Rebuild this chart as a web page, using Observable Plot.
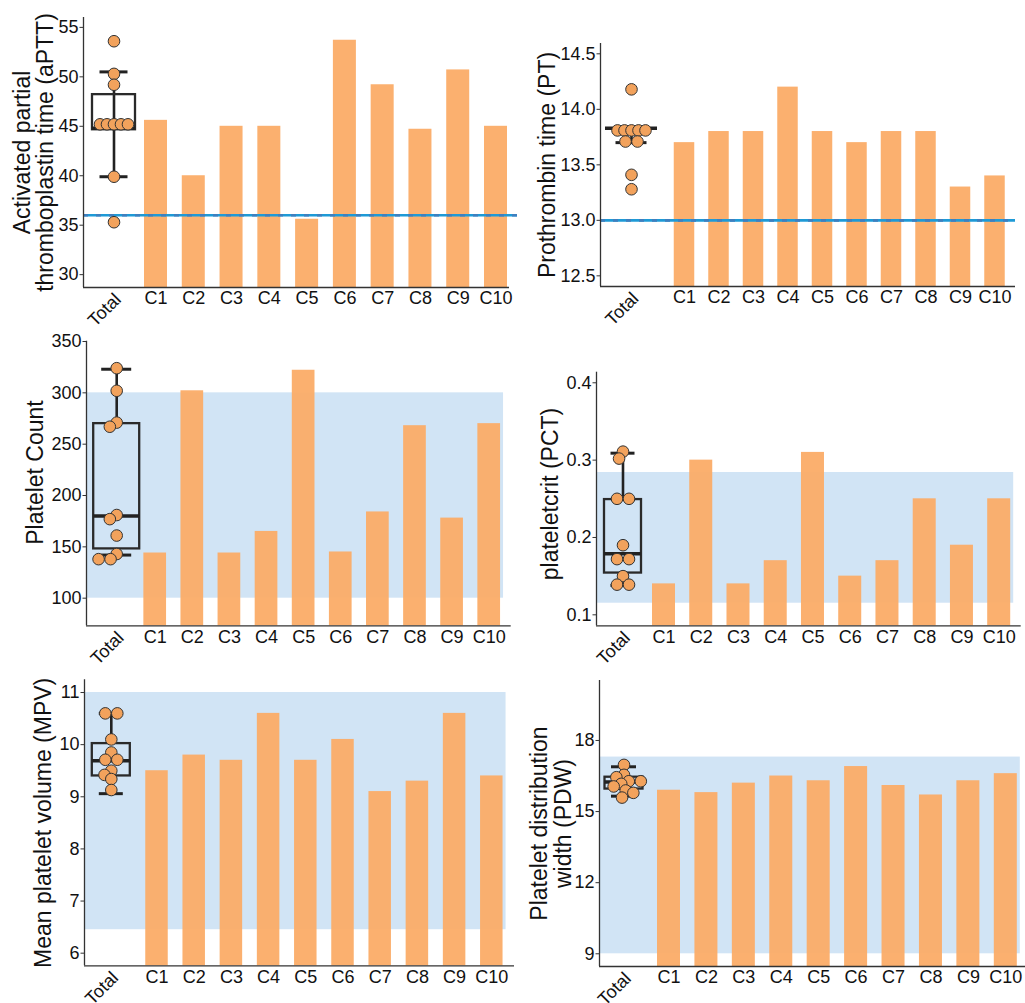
<!DOCTYPE html>
<html><head><meta charset="utf-8">
<script src="https://cdn.jsdelivr.net/npm/d3@7"></script>
<script src="https://cdn.jsdelivr.net/npm/@observablehq/plot@0.6"></script>
<style>
body{margin:0;background:#fff;}
#root{position:relative;width:1025px;height:1003px;overflow:hidden;background:#fff;font-family:"Liberation Sans",Arial,sans-serif;}
.panel{position:absolute;}
</style></head><body><div id="root"></div>
<script>
// ---------- DATA ----------
const clusters = ["C1","C2","C3","C4","C5","C6","C7","C8","C9","C10"];
const totalLabel = "Total";

const apttBars = [45.6, 40.0, 45.0, 45.0, 35.6, 53.7, 49.2, 44.7, 50.7, 45.0];
const apttDots = [53.6, 50.3, 49.2, 45.2, 45.2, 45.2, 45.2, 45.2, 39.9, 35.3];
const apttBox  = [39.9, 44.65, 44.8, 48.2, 50.5]; // lo, q1, median, q3, hi
const apttRef  = 36;
const apttTicks = [30, 35, 40, 45, 50, 55];

const ptBars = [13.7, 13.8, 13.8, 14.2, 13.8, 13.7, 13.8, 13.8, 13.3, 13.4];
const ptDots = [14.18, 13.81, 13.81, 13.81, 13.81, 13.81, 13.71, 13.71, 13.41, 13.28];
const ptBox  = [13.70, 13.83, 13.83, 13.83, 13.83];
const ptRef  = 13.0;
const ptTicks = [12.5, 13.0, 13.5, 14.0, 14.5];

const pltBars = [144, 302, 144, 165, 322, 145, 184, 268, 178, 270];
const pltDots = [324, 302, 271, 267, 181, 177, 161, 143, 138, 138];
const pltBox  = [142, 148, 180, 270, 323];
const pltBand = [100, 300];
const pltTicks = [100, 150, 200, 250, 300, 350];

const pctBars = [0.14, 0.30, 0.14, 0.17, 0.31, 0.15, 0.17, 0.25, 0.19, 0.25];
const pctDots = [0.311, 0.302, 0.25, 0.25, 0.19, 0.172, 0.172, 0.15, 0.139, 0.139];
const pctBox  = [0.138, 0.154, 0.179, 0.249, 0.309];
const pctBand = [0.115, 0.284];
const pctTicks = [0.1, 0.2, 0.3, 0.4];

const mpvBars = [9.5, 9.8, 9.7, 10.6, 9.7, 10.1, 9.1, 9.3, 10.6, 9.4];
const mpvDots = [10.6, 10.6, 10.1, 9.85, 9.71, 9.71, 9.5, 9.42, 9.34, 9.13];
const mpvBox  = [9.06, 9.40, 9.69, 10.02, 10.6];
const mpvBand = [6.45, 11.0];
const mpvTicks = [6, 7, 8, 9, 10, 11];

const pdwBars = [15.9, 15.8, 16.2, 16.5, 16.3, 16.9, 16.1, 15.7, 16.3, 16.6];
const pdwDots = [16.97, 16.55, 16.45, 16.28, 16.28, 16.17, 16.06, 15.89, 15.79, 15.59];
const pdwBox  = [15.65, 15.95, 16.25, 16.45, 16.89];
const pdwBand = [9.0, 17.3];
const pdwTicks = [9, 12, 15, 18];

// ---------- STYLE / LAYOUT ----------
const FONT = '"Liberation Sans", Arial, sans-serif';
const BAR = "#fbad69", DOT = "#f2a25c", BAND = "#d1e4f5", INK = "#222";
const intFmt = d3.format("d"), oneFmt = d3.format(".1f");

const panels = [
  {label:"Activated partial\nthromboplastin time (aPTT)", bars:apttBars, dots:apttDots, box:apttBox, ref:apttRef, ticks:apttTicks, fmt:intFmt,
   L:{left:0, top:0, width:520, height:330, ml:83, mr:11, mt:17, mb:43, c1:155.5, c10:495.5, total:113.5, barW:23, boxW:43, capW:28, yDomain:[28.7,56.0], labelDx:-49.5, labelDy:0, refExt:8, through:true}},
  {label:"Prothrombin time (PT)", bars:ptBars, dots:ptDots, box:ptBox, ref:ptRef, ticks:ptTicks, fmt:oneFmt,
   L:{left:520, top:0, width:505, height:330, ml:80, mr:10, mt:43, mb:44, c1:164, c10:474.5, total:111, barW:20.5, boxW:52, capW:31, yDomain:[12.404,14.593], labelDx:-53, labelDy:0, refExt:0}},
  {label:"Platelet Count", bars:pltBars, dots:pltDots, box:pltBox, band:pltBand, ticks:pltTicks, fmt:intFmt,
   L:{left:0, top:330, width:520, height:340, ml:86, mr:9.3, mt:10.7, mb:44.7, c1:154.7, c10:488.7, total:116.2, barW:22.7, boxW:46, capW:30, yDomain:[73.1,350.3], labelDx:-51, labelDy:-11}},
  {label:"plateletcrit (PCT)", bars:pctBars, dots:pctDots, box:pctBox, band:pctBand, ticks:pctTicks, fmt:oneFmt,
   L:{left:520, top:330, width:505, height:340, ml:76, mr:4.3, mt:41.7, mb:44.7, c1:143.5, c10:478.7, total:102.5, barW:23, boxW:37, capW:24, yDomain:[0.0858,0.4137], labelDx:-46, labelDy:-5}},
  {label:"Mean platelet volume (MPV)", bars:mpvBars, dots:mpvDots, box:mpvBox, band:mpvBand, ticks:mpvTicks, fmt:intFmt,
   L:{left:0, top:670, width:520, height:333, ml:84, mr:6, mt:9.3, mb:37.7, c1:156.5, c10:491.3, total:110.8, barW:22.5, boxW:38, capW:24, yDomain:[5.758,11.244], labelDx:-41, labelDy:0}},
  {label:"Platelet distribution\nwidth (PDW)", bars:pdwBars, dots:pdwDots, box:pdwBox, band:pdwBand, ticks:pdwTicks, fmt:intFmt,
   L:{left:520, top:670, width:505, height:333, ml:79, mr:0, mt:10, mb:37, c1:148.5, c10:485.3, total:103.5, barW:23, boxW:38, capW:25, yDomain:[8.464,20.53], labelDx:-48, labelDy:0}}
];

// beeswarm-like placement of the Total dots (identical values form centred rows)
function swarm(values, ypx, Dmin) {
  const rows = [];
  values.forEach(v => {
    const py = ypx(v);
    const row = rows.find(r => Math.abs(r.py - py) < 1.5);
    if (row) row.vals.push(v); else rows.push({py, vals:[v]});
  });
  const placed = [], out = [];
  for (const row of rows) {
    const n = row.vals.length;
    const D = n <= 2 ? 12 : 7;
    const rel = d3.range(n).map(i => (i - (n - 1) / 2) * D);
    const cands = [0];
    for (const p of placed) {
      const dy = Math.abs(p.py - row.py);
      if (dy < Dmin) {
        const dx = Math.sqrt(Dmin * Dmin - dy * dy);
        for (const r of rel) cands.push(p.px + dx - r, p.px - dx - r);
      }
    }
    cands.sort((a, b) => Math.abs(a) - Math.abs(b) || a - b);
    const ok = c => rel.every(r => placed.every(p => (p.px - (c + r)) ** 2 + (p.py - row.py) ** 2 >= Dmin * Dmin - 1e-6));
    const c = cands.find(ok) ?? 0;
    rel.forEach((r, i) => { placed.push({px: c + r, py: row.py}); out.push({off: c + r, v: row.vals[i]}); });
  }
  return out;
}

const root = document.getElementById("root");

for (const P of panels) {
  const L = P.L;
  const ppu = (L.c10 - L.c1) / 9;
  const xmin = 1 - (L.c1 - L.ml) / ppu;
  const xmax = 10 + (L.width - L.mr - L.c10) / ppu;
  const xt = 1 - (L.c1 - L.total) / ppu;
  const [y0, y1] = L.yDomain;
  const innerH = L.height - L.mt - L.mb;
  const ypx = v => L.mt + (y1 - v) / (y1 - y0) * innerH;

  const barData = clusters.map((c, i) => ({i: i + 1, c, v: P.bars[i]}));
  const hw = L.barW / 2 / ppu, bw = L.boxW / 2 / ppu, cw = L.capW / 2 / ppu;
  const [lo, q1, med, q3, hi] = P.box;
  const dots = swarm(P.dots, ypx, 8).map(d => ({x: xt + d.off / ppu, y: d.v}));

  const marks = [];
  if (P.band) marks.push(Plot.rect([P.band], {x1: () => xmin, x2: () => 10 + (L.barW / 2 + 3) / ppu, y1: b => b[0], y2: b => b[1], fill: BAND}));
  marks.push(Plot.rectY(barData, {x1: d => d.i - hw, x2: d => d.i + hw, y1: () => y0, y2: "v", fill: BAR, fillOpacity: 0.96}));
  if (P.ref != null) {
    const x2 = xmax + L.refExt / ppu;
    marks.push(Plot.ruleY([P.ref], {x1: () => xmin, x2: () => x2, stroke: "#1e9ad6", strokeWidth: 2.6}));
    marks.push(Plot.ruleY([P.ref], {x1: () => xmin, x2: () => x2, stroke: "#3f7fbf", strokeWidth: 2.6, strokeDasharray: "5,8"}));
  }
  // box plot
  if (L.through) {
    marks.push(Plot.ruleX([xt], {y1: () => lo, y2: () => hi, stroke: INK, strokeWidth: 2.6}));
  } else {
    marks.push(Plot.ruleX([xt], {y1: () => lo, y2: () => q1, stroke: INK, strokeWidth: 2.6}));
    marks.push(Plot.ruleX([xt], {y1: () => q3, y2: () => hi, stroke: INK, strokeWidth: 2.6}));
  }
  marks.push(Plot.ruleY([lo, hi], {x1: () => xt - cw, x2: () => xt + cw, stroke: INK, strokeWidth: 3}));
  marks.push(Plot.rect([0], {x1: () => xt - bw, x2: () => xt + bw, y1: () => q1, y2: () => q3, fill: "none", stroke: "#2a2a2a", strokeWidth: 2.3}));
  marks.push(Plot.ruleY([med], {x1: () => xt - bw, x2: () => xt + bw, stroke: INK, strokeWidth: 3.4}));
  marks.push(Plot.dot(dots, {x: "x", y: "y", r: 5.8, fill: DOT, stroke: "#333", strokeWidth: 1}));
  // axes
  marks.push(Plot.ruleX([xmin], {stroke: "#333", strokeWidth: 1.3}));
  marks.push(Plot.ruleY([y0], {stroke: "#333", strokeWidth: 1.3}));
  marks.push(Plot.axisY(P.ticks, {tickSize: 3.5, tickPadding: 1.5, fontSize: 18, stroke: "#333", fill: "#111", tickFormat: P.fmt, label: null}));
  marks.push(Plot.axisX(d3.range(1, 11), {tickSize: 0, tickPadding: 4, fontSize: 18, fill: "#111", tickFormat: i => clusters[i - 1], label: null}));
  marks.push(Plot.axisX([xt], {tickSize: 0, tickPadding: 9, tickRotate: -45, dx: 4, fontSize: 18, fill: "#111", tickFormat: () => totalLabel, label: null}));
  marks.push(Plot.text([P.label], {frameAnchor: "left", textAnchor: "middle", rotate: -90, dx: L.labelDx, dy: L.labelDy, fontSize: 23, lineHeight: 1.02, fill: "#111", text: d => d}));

  const plot = Plot.plot({
    width: L.width, height: L.height,
    marginLeft: L.ml, marginRight: L.mr, marginTop: L.mt, marginBottom: L.mb,
    x: {type: "linear", domain: [xmin, xmax]},
    y: {type: "linear", domain: [y0, y1]},
    style: {fontFamily: FONT, background: "transparent", overflow: "visible", color: "#111"},
    marks
  });
  const div = document.createElement("div");
  div.className = "panel";
  div.style.left = L.left + "px";
  div.style.top = L.top + "px";
  div.appendChild(plot);
  root.appendChild(div);
}
</script>
</body></html>
